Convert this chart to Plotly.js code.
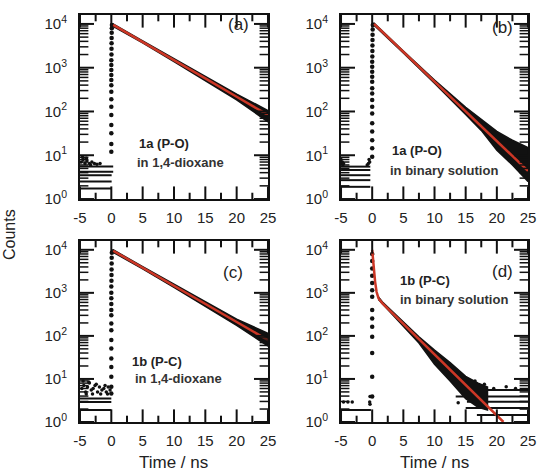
<!DOCTYPE html>
<html>
<head>
<meta charset="utf-8">
<script src="https://cdn.plot.ly/plotly-3.0.1.min.js"></script>
<style>html,body{margin:0;padding:0;background:#fff;}#chart{width:539px;height:475px;}</style>
</head>
<body>
<div id="chart"></div>
<script>
// ---------------- data ----------------
const xRange = [-5, 25];
const yTop = 16000;           // upper end of the log count axis
const xTickVals = [-5, 0, 5, 10, 15, 20, 25];
const xTickText = ['-5', '0', '5', '10', '15', '20', '25'];
const xMinorVals = [-2.5, 2.5, 7.5, 12.5, 17.5, 22.5];
const yTickVals = [1, 10, 100, 1000, 10000];
const yTickText = ['10<sup>0</sup>', '10<sup>1</sup>', '10<sup>2</sup>', '10<sup>3</sup>', '10<sup>4</sup>'];
const yMinorVals = [2, 3, 4, 5, 6, 7, 8, 9, 20, 30, 40, 50, 60, 70, 80, 90, 200, 300, 400, 500, 600, 700, 800, 900,
                    2000, 3000, 4000, 5000, 6000, 7000, 8000, 9000];
const panelTags = ['(a)', '(b)', '(c)', '(d)'];
const panelSample = ['1a (P-O)', '1a (P-O)', '1b (P-C)', '1b (P-C)'];
const panelSolvent = ['in 1,4-dioxane', 'in binary solution', 'in 1,4-dioxane', 'in binary solution'];

// Panel (a)
const aBaseLevels = [1.75, 2.5, 3.5, 4.2, 5.5];
const aBaseStart = [-5, -5, -5, -5, -5];
const aBaseEnd = [0.05, 0.05, 0.05, 0.3, 0.3];
const aNoiseT = [-4.8, -4.5, -4.2, -3.9, -3.5, -3.1, -2.7, -2.3, -1.8, -4.6, -4.0, -3.3];
const aNoiseC = [7, 8, 6.5, 7.5, 6.5, 7, 6.5, 6.2, 6.5, 9, 8.5, 6];
const aRiseT = [0.0, 0.0, 0.0, 0.0, 0.0, 0.0, 0.0, 0.0, 0.0, 0.0, 0.0, 0.0, 0.0, 0.0, 0.02, 0.03, 0.04, 0.05, 0.06, 0.08, 0.1];
const aRiseC = [12, 18, 32, 49, 83, 128, 190, 282, 400, 525, 680, 890, 1150, 1480, 2000, 2700, 3600, 4800, 6300, 8000, 9500];
const aBandT = [0.15, 0.3, 5, 10, 15, 20, 25];
const aBandHi = [10000, 10000, 4100, 1600, 630, 250, 105];
const aBandLo = [9000, 9000, 3700, 1380, 510, 185, 58];
const aFitT = [0.3, 5, 10, 15, 20, 25];
const aFitC = [9500, 3900, 1490, 570, 217, 83];

// Panel (b)
const bBaseLevels = [1.9, 2.7, 3.5, 4.6, 5.5];
const bBaseStart = [-5, -5, -5, -5, -5];
const bBaseEnd = [-0.3, -0.3, -0.3, -0.3, -0.3];
const bNoiseT = [-5.0, -4.9, -4.8, -4.7, -4.6, -0.8, -0.6, -0.4, -0.5];
const bNoiseC = [8, 6.5, 7, 6, 6.5, 6, 6.5, 7, 8];
const bRiseT = [0.0, 0.0, 0.0, 0.0, 0.0, 0.0, 0.0, 0.0, 0.0, 0.0, 0.0, 0.0, 0.0, 0.0, 0.0, 0.02, 0.03, 0.04, 0.05, 0.06, 0.08, 0.1];
const bRiseC = [9.2, 14.4, 22, 35, 54, 90, 128, 182, 257, 340, 480, 620, 810, 1050, 1360, 1800, 2400, 3200, 4300, 5700, 7500, 9500];
const bBandT = [0.15, 0.3, 5, 10, 15, 17.5, 20, 22.5, 25];
const bBandHi = [10200, 10400, 2400, 520, 125, 66, 35, 22, 15];
const bBandLo = [9200, 9400, 2180, 445, 85, 37, 13, 6, 2.5];
const bFitT = [0.3, 5, 10, 15, 20, 25];
const bFitC = [10000, 2290, 480, 100, 21, 4.4];

// Panel (c)
const cBaseLevels = [1.9, 2.9, 3.5];
const cBaseStart = [-5, -5, -5];
const cBaseEnd = [0.0, 0.0, 0.0];
const cNoiseT = [-4.7, -4.4, -4.1, -3.8, -3.5, -3.2, -2.9, -2.6, -2.2, -1.9, -1.5, -1.2, -0.8, -0.5, -0.2, -4.5, -3.6, -2.4, -1.0, -4.0, -3.0, -1.7, -0.6];
const cNoiseC = [6, 7, 5, 6.5, 8, 5.5, 6, 7, 5, 6.5, 5.5, 6, 5, 6.5, 5.5, 9, 8.5, 7.5, 7, 4.5, 4.5, 4.5, 4.5];
const cRiseT = [0.0, 0.0, 0.0, 0.0, 0.0, 0.0, 0.0, 0.0, 0.0, 0.0, 0.0, 0.0, 0.0, 0.0, 0.0, 0.02, 0.03, 0.04, 0.05, 0.06, 0.08];
const cRiseC = [4.6, 6.6, 11.2, 19, 30, 51, 80, 136, 195, 300, 400, 550, 750, 1000, 1400, 1900, 2600, 3500, 4800, 6500, 8500];
const cBandT = [0.15, 0.3, 5, 10, 15, 20, 25];
const cBandHi = [10000, 10000, 4050, 1570, 620, 245, 115];
const cBandLo = [9000, 9000, 3600, 1340, 490, 175, 58];
const cFitT = [0.3, 5, 10, 15, 20, 25];
const cFitC = [9500, 3830, 1450, 550, 210, 80];

// Panel (d)
const dBaseLevels = [1.9, 1.45, 2.1, 2.95, 3.9, 5.5];
const dBaseStart = [-5, 16.8, 15.0, 15.2, 13.4, 15.7];
const dBaseEnd = [-0.2, 25, 25, 25, 25, 25];
const dNoiseT = [-4.6, -3.9, -3.2, -0.4, -0.35, -0.35, 13.8, 16.5, 18.0, 21.5, 19.5, 23.0];
const dNoiseC = [2.9, 2.9, 2.9, 2.9, 3.9, 2.6, 2.8, 9, 7.5, 6.6, 6, 6];
const dRiseT = [0.0, 0.0, 0.0, 0.0, 0.0, 0.0, 0.0, 0.0, 0.0, 0.0, 0.0, 0.0, 0.0, 0.0];
const dRiseC = [3.9, 11.2, 40, 95, 164, 255, 400, 810, 1150, 1700, 2500, 3700, 5500, 8000];
const dBandT = [1.0, 1.65, 3, 5, 7.5, 10, 12.5, 15, 17, 18.5];
const dBandHi = [800, 610, 400, 210, 95, 47, 24, 11.5, 8, 6.5];
const dBandLo = [700, 530, 330, 165, 68, 22, 9, 3.5, 2.2, 1.9];
const dFitT = [0.0, 0.06, 0.22, 0.47, 0.70, 1.02, 1.65, 10, 15, 21.06];
const dFitC = [10000, 7450, 3700, 1800, 1060, 740, 570, 37, 7.2, 1];

// ---------------- build ----------------
const panels = [
  {base:[aBaseLevels,aBaseStart,aBaseEnd], noise:[aNoiseT,aNoiseC], rise:[aRiseT,aRiseC], band:[aBandT,aBandHi,aBandLo], fit:[aFitT,aFitC]},
  {base:[bBaseLevels,bBaseStart,bBaseEnd], noise:[bNoiseT,bNoiseC], rise:[bRiseT,bRiseC], band:[bBandT,bBandHi,bBandLo], fit:[bFitT,bFitC]},
  {base:[cBaseLevels,cBaseStart,cBaseEnd], noise:[cNoiseT,cNoiseC], rise:[cRiseT,cRiseC], band:[cBandT,cBandHi,cBandLo], fit:[cFitT,cFitC]},
  {base:[dBaseLevels,dBaseStart,dBaseEnd], noise:[dNoiseT,dNoiseC], rise:[dRiseT,dRiseC], band:[dBandT,dBandHi,dBandLo], fit:[dFitT,dFitC]}
];
const RED = '#cc3726';
const INK = '#111';
const traces = [];

// tick marks drawn as clipped line markers sitting on the frame (inside + mirrored)
function tickTrace(xa, ya, xs, ys, symbol, size, width) {
  return {x: xs, y: ys, xaxis: xa, yaxis: ya, mode: 'markers', cliponaxis: true, hoverinfo: 'skip',
    marker: {symbol: symbol, size: size, color: INK, line: {color: INK, width: width}}};
}

panels.forEach((p, i) => {
  const xa = 'x' + (i ? i + 1 : ''), ya = 'y' + (i ? i + 1 : '');
  const bx = [], by = [];
  p.base[0].forEach((lvl, k) => { bx.push(p.base[1][k], p.base[2][k], null); by.push(lvl, lvl, null); });
  traces.push({x: bx, y: by, xaxis: xa, yaxis: ya, mode: 'lines', line: {color: INK, width: 2}});
  traces.push({x: p.noise[0], y: p.noise[1], xaxis: xa, yaxis: ya, mode: 'markers', marker: {color: INK, size: 3.5}});
  const T = p.band[0];
  traces.push({x: T.concat(T.slice().reverse()), y: p.band[1].concat(p.band[2].slice().reverse()),
    xaxis: xa, yaxis: ya, mode: 'lines', fill: 'toself', fillcolor: INK, line: {color: INK, width: 1.5}});
  traces.push({x: p.rise[0], y: p.rise[1], xaxis: xa, yaxis: ya, mode: 'markers', marker: {color: INK, size: 4.5}});
  traces.push({x: p.fit[0], y: p.fit[1], xaxis: xa, yaxis: ya, mode: 'lines', line: {color: RED, width: 2.5}});

  const yMajX = yTickVals.map(() => xRange[0]).concat(yTickVals.map(() => xRange[1]));
  const yMinX = yMinorVals.map(() => xRange[0]).concat(yMinorVals.map(() => xRange[1]));
  traces.push(tickTrace(xa, ya, yMajX, yTickVals.concat(yTickVals), 'line-ew', 20, 2));
  traces.push(tickTrace(xa, ya, yMinX, yMinorVals.concat(yMinorVals), 'line-ew', 12, 1.5));
  const xMajY = xTickVals.map(() => 1).concat(xTickVals.map(() => yTop));
  const xMinY = xMinorVals.map(() => 1).concat(xMinorVals.map(() => yTop));
  traces.push(tickTrace(xa, ya, xTickVals.concat(xTickVals), xMajY, 'line-ns', 18, 2));
  traces.push(tickTrace(xa, ya, xMinorVals.concat(xMinorVals), xMinY, 'line-ns', 9, 2));
});

const xDom = [[0.1484, 0.4972], [0.6327, 0.9796], [0.1484, 0.4972], [0.6327, 0.9796]];
const yDom = [[0.581, 0.9684], [0.581, 0.9684], [0.1116, 0.4926], [0.1116, 0.4926]];

const layout = {
  width: 539, height: 475, margin: {l: 0, r: 0, t: 0, b: 0}, showlegend: false,
  paper_bgcolor: '#fff', plot_bgcolor: '#fff',
  font: {family: 'Liberation Sans, Arial, sans-serif', color: '#222', size: 14},
  annotations: []
};
for (let i = 0; i < 4; i++) {
  const s = i ? i + 1 : '';
  layout['xaxis' + s] = {
    domain: xDom[i], anchor: 'y' + s, range: xRange, tickmode: 'array', tickvals: xTickVals, ticktext: xTickText,
    ticks: '', showline: true, linewidth: 2, linecolor: INK, mirror: true,
    showgrid: false, zeroline: false, tickfont: {size: 15, color: '#222'}, ticklabelstandoff: 4
  };
  layout['yaxis' + s] = {
    domain: yDom[i], anchor: 'x' + s, type: 'log', range: [0, Math.log10(yTop)], tickmode: 'array',
    tickvals: yTickVals, ticktext: yTickText, ticks: '',
    showline: true, linewidth: 2, linecolor: INK, mirror: true,
    showgrid: false, zeroline: false, tickfont: {size: 15, color: '#222'}, ticklabelstandoff: 8
  };
}
const tagPos = [[0.4416, 0.9474], [0.9332, 0.9411], [0.4323, 0.4253], [0.9332, 0.4274]];
const labPos = [[0.2542, 0.6989, 0.2505, 0.6589], [0.7236, 0.6842, 0.7199, 0.6421],
                [0.2412, 0.2379, 0.2468, 0.2042], [0.7384, 0.4105, 0.7384, 0.3705]];
for (let i = 0; i < 4; i++) {
  layout.annotations.push({text: panelTags[i], xref: 'paper', yref: 'paper', x: tagPos[i][0], y: tagPos[i][1],
    xanchor: 'center', yanchor: 'middle', showarrow: false, font: {size: 17, color: '#222'}});
  layout.annotations.push({text: '<b>' + panelSample[i] + '</b>', xref: 'paper', yref: 'paper', x: labPos[i][0], y: labPos[i][1],
    xanchor: 'left', yanchor: 'middle', showarrow: false, font: {size: 13, color: '#222'}});
  layout.annotations.push({text: '<b>' + panelSolvent[i] + '</b>', xref: 'paper', yref: 'paper', x: labPos[i][2], y: labPos[i][3],
    xanchor: 'left', yanchor: 'middle', showarrow: false, font: {size: 13, color: '#333'}});
}
layout.annotations.push({text: 'Counts', xref: 'paper', yref: 'paper', x: 0.0186, y: 0.5053, textangle: -90,
  xanchor: 'center', yanchor: 'middle', showarrow: false, font: {size: 16, color: '#222'}});
layout.annotations.push({text: 'Time / ns', xref: 'paper', yref: 'paper', x: 0.3228, y: 0.0253,
  xanchor: 'center', yanchor: 'middle', showarrow: false, font: {size: 17, color: '#222'}});
layout.annotations.push({text: 'Time / ns', xref: 'paper', yref: 'paper', x: 0.8061, y: 0.0253,
  xanchor: 'center', yanchor: 'middle', showarrow: false, font: {size: 17, color: '#222'}});

Plotly.newPlot('chart', traces, layout, {staticPlot: true, displayModeBar: false});
</script>
</body>
</html>
